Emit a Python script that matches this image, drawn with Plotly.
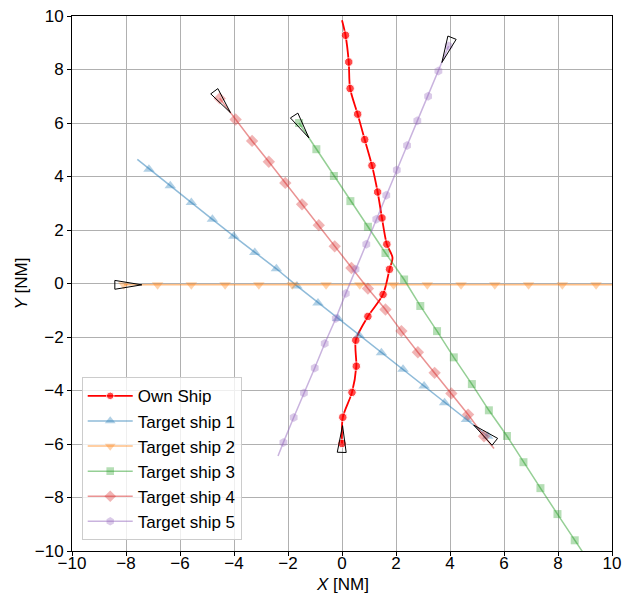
import numpy as np
import plotly.graph_objects as go

# ---------------- data ----------------
own_x = [0.0, 0.03, 0.37, 0.53, 0.51, 0.96, 1.52, 1.76, 1.87, 1.66, 1.48, 1.32, 1.11, 0.84, 0.58, 0.30, 0.25, 0.13, 0.0]
own_y = [-5.98, -5.00, -4.07, -3.09, -2.12, -1.23, -0.41, 0.53, 0.97, 1.47, 2.45, 3.42, 4.41, 5.38, 6.33, 7.29, 8.28, 9.28, 9.84]
own_is_marker = [1, 1, 1, 1, 1, 1, 1, 1, 0, 1, 1, 1, 1, 1, 1, 1, 1, 1, 0]

t1_x = [5.40, 4.61, 3.80, 3.04, 2.26, 1.46, 0.63, -0.15, -0.89, -1.67, -2.43, -3.23, -4.01, -4.80, -5.58, -6.36, -7.15, -7.58]
t1_y = [-5.71, -5.08, -4.46, -3.83, -3.21, -2.59, -1.93, -1.31, -0.73, -0.09, 0.55, 1.16, 1.77, 2.40, 3.03, 3.65, 4.27, 4.64]

t2_x = [-8.08, -6.83, -5.58, -4.33, -3.08, -1.84, -0.59, 0.66, 1.91, 3.16, 4.41, 5.66, 6.91, 8.16, 9.41, 10.66, 11.91, 12.61]
t2_y = [-0.05] * 18

t3_x = [-1.59, -0.95, -0.30, 0.31, 0.96, 1.61, 2.30, 2.90, 3.52, 4.14, 4.81, 5.44, 6.11, 6.72, 7.35, 7.98, 8.62, 8.98]
t3_y = [6.00, 5.02, 4.02, 3.08, 2.12, 1.14, 0.15, -0.84, -1.78, -2.76, -3.76, -4.74, -5.70, -6.68, -7.65, -8.62, -9.60, -10.14]

t4_x = [-4.53, -3.94, -3.33, -2.71, -2.10, -1.48, -0.86, -0.27, 0.35, 0.96, 1.61, 2.20, 2.81, 3.43, 4.05, 4.67, 5.26, 5.63]
t4_y = [6.92, 6.13, 5.33, 4.55, 3.76, 2.96, 2.18, 1.39, 0.58, -0.19, -0.97, -1.78, -2.57, -3.34, -4.11, -4.90, -5.71, -6.17]

t5_x = [3.95, 3.57, 3.19, 2.79, 2.41, 2.03, 1.64, 1.27, 0.90, 0.50, 0.14, -0.23, -0.64, -1.01, -1.41, -1.79, -2.17, -2.37]
t5_y = [8.88, 7.94, 7.00, 6.08, 5.16, 4.24, 3.30, 2.40, 1.47, 0.53, -0.37, -1.31, -2.24, -3.16, -4.09, -5.01, -5.94, -6.45]

names = ["Target ship 1", "Target ship 2", "Target ship 3", "Target ship 4", "Target ship 5"]
colors = ["rgba(31,119,180,0.5)", "rgba(255,127,14,0.5)", "rgba(44,160,44,0.5)",
          "rgba(214,39,40,0.5)", "rgba(148,103,189,0.5)"]
symbols = ["triangle-up", "triangle-down", "square", "diamond", "hexagon"]
msizes = [10, 10, 8, 9.5, 9]

x_ticks = list(range(-10, 11, 2))
y_ticks = list(range(-10, 11, 2))

FONT = "Liberation Sans, Arial, sans-serif"
FS = 17

fig = go.Figure()

# own ship
fig.add_trace(go.Scatter(
    x=own_x, y=own_y, mode="lines+markers", name="Own Ship",
    line=dict(color="#ff0000", width=1.8, shape="spline", smoothing=0.8),
    marker=dict(symbol="circle", color="#ff0000",
                size=[8.5 if m else 0 for m in own_is_marker]),
))

targets = [(t1_x, t1_y), (t2_x, t2_y), (t3_x, t3_y), (t4_x, t4_y), (t5_x, t5_y)]
for (tx, ty), nm, col, sym, ms in zip(targets, names, colors, symbols, msizes):
    sizes = [ms] * (len(tx) - 1) + [0]
    fig.add_trace(go.Scatter(
        x=tx, y=ty, mode="lines+markers", name=nm,
        line=dict(color=col, width=1.5),
        marker=dict(symbol=sym, color=col, size=sizes, line=dict(width=0)),
    ))

# ship outlines (triangles) at the initial positions, pointing along heading
def ship_shape(xs, ys, L=1.0, W=0.33):
    p0 = np.array([xs[0], ys[0]])
    p1 = np.array([xs[1], ys[1]])
    h = (p1 - p0) / np.linalg.norm(p1 - p0)
    n = np.array([-h[1], h[0]])
    apex = p0 + h * L * 2 / 3
    b1 = p0 - h * L / 3 + n * W / 2
    b2 = p0 - h * L / 3 - n * W / 2
    return "M {} {} L {} {} L {} {} Z".format(apex[0], apex[1], b1[0], b1[1], b2[0], b2[1])

for xs, ys in [(own_x, own_y)] + targets:
    fig.add_shape(type="path", path=ship_shape(xs, ys), xref="x", yref="y",
                  line=dict(color="black", width=1), fillcolor="rgba(0,0,0,0)")

axis_common = dict(
    showgrid=True, gridcolor="#b0b0b0", gridwidth=1, zeroline=False,
    showline=True, linecolor="black", linewidth=1, mirror=True,
    ticks="outside", ticklen=4, tickcolor="black", tickwidth=1,
    tickfont=dict(family=FONT, size=FS, color="black"), automargin=False,
)

fig.update_layout(
    width=630, height=596,
    margin=dict(l=72, r=18, t=16, b=45),
    paper_bgcolor="white", plot_bgcolor="white",
    font=dict(family=FONT, size=FS, color="black"),
    xaxis=dict(range=[-10, 10], tickvals=x_ticks, ticktext=[str(v).replace("-", "\u2212") for v in x_ticks],
               ticklabelstandoff=-7, **axis_common),
    yaxis=dict(range=[-10, 10], tickvals=y_ticks, ticktext=[str(v).replace("-", "\u2212") for v in y_ticks],
               **axis_common),
    legend=dict(x=0.018, y=0.02, xanchor="left", yanchor="bottom",
                bgcolor="rgba(255,255,255,0.8)", bordercolor="#cccccc", borderwidth=1,
                font=dict(family=FONT, size=FS, color="black"), itemwidth=45,
                tracegroupgap=0),
    showlegend=True,
    annotations=[
        dict(text="<i>X</i> [NM]", xref="paper", yref="paper", x=0.5, y=-0.063,
             xanchor="center", yanchor="middle", showarrow=False,
             font=dict(family=FONT, size=FS, color="black")),
        dict(text="<i>Y</i> [NM]", xref="paper", yref="paper", x=-0.0926, y=0.5,
             xanchor="center", yanchor="middle", showarrow=False, textangle=-90,
             font=dict(family=FONT, size=FS, color="black")),
    ],
)

fig.write_html("out.html", post_script="document.body.style.margin='0';",
               config={"displayModeBar": False})
